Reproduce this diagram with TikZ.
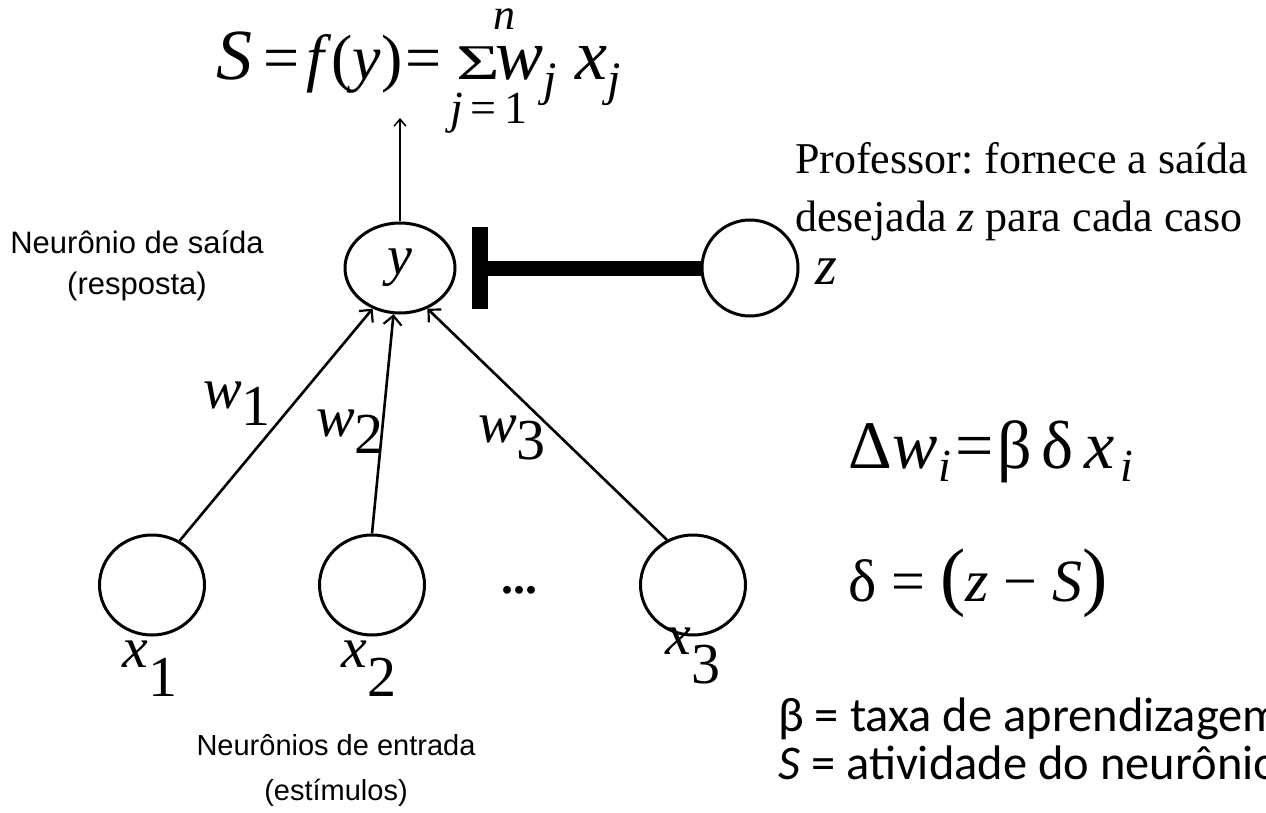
\documentclass[tikz,border=0pt]{standalone}
\usepackage{fontspec}
\setmainfont{Liberation Serif}
\newfontfamily\sansf{Liberation Sans}
\newfontfamily\calib{Carlito}
\usetikzlibrary{arrows.meta,shapes.geometric}
\newcommand\fsz[1]{\fontsize{#1}{#1}\selectfont}
\newcommand\sub[2][0.3em]{\raisebox{-#1}{#2}}
\frenchspacing
\begin{document}
\begin{tikzpicture}[x=1pt,y=-1pt,
  neuron/.style={draw, ellipse, line width=3pt, inner sep=0pt},
  conn/.style={line width=2.6pt, -{Straight Barb[length=9pt,width=18pt,line width=2.2pt]}},
  sanslbl/.style={font=\sansf\fontsize{30}{41}\selectfont, align=center, inner sep=0pt},
  txt/.style={inner sep=0pt, anchor=base west},
  ctxt/.style={inner sep=0pt, anchor=base}]
\useasboundingbox[fill=white] (0,0) rectangle (1266,813);

% formula on top
\node[txt, font=\fsz{72}, text height=48pt] (fS) at (216,80) {\textit{S}};
\node[txt, font=\fsz{64}, text height=30pt] (fe1) at (263,80) {=};
\node[txt, font=\fsz{64}, text height=44pt] (ffy) at (306,80) {\textit{f}(\textit{y})};
\node[txt, font=\fsz{64}, text height=30pt] (fe2) at (405,80) {=};
\node[txt, font=\fsz{50}, text height=24pt, text depth=0pt] (sig) at (456,80) {\scalebox{1.5}[1]{Σ}};
\node[ctxt, font=\fsz{44}, text height=20pt, text depth=0pt] (nup) at (504,30) {\textit{n}};
\node[ctxt, font=\fsz{46}, text height=31pt] (jlow) at (489,124) {\textit{j}\,=\,1};
\node[txt, font=\fsz{72}, text height=30pt] (fw) at (495,80) {\textit{w}\sub[0.22em]{\fsz{48}\textit{j}}};
\node[txt, font=\fsz{72}, text height=30pt] (fx) at (575,80) {\textit{x}\sub[0.22em]{\fsz{48}\textit{j}}};

% output neuron
\node[neuron, minimum width=110pt, minimum height=90pt] (y) at (400,268) {\fsz{56}\textit{y}};
\coordinate (top) at (400,118);
\draw[line width=2pt, -{Straight Barb[length=7pt,width=12pt,line width=1.5pt]}] (y.north) -- (top);
\node[sanslbl, font=\sansf\fontsize{31}{41}\selectfont] (lout) at (137,266) {Neurônio de saída\\(resposta)};

% teacher
\node[neuron, minimum width=96pt, minimum height=96pt] (z) at (750,268) {};
\node[inner sep=0pt, font=\fsz{56}] (zl) at (826,272) {\textit{z}};
\node[fill=black, minimum width=16pt, minimum height=82pt, inner sep=0pt] (bar) at (480,268) {};
\draw[line width=15pt] (bar.center) -- (z.west);
\node[txt, align=left, font=\fontsize{44}{58}\selectfont] (prof) at (795,231)
  {Professor: fornece a saída\\desejada \textit{z} para cada caso};

% input neurons
\node[neuron, minimum width=105pt, minimum height=100pt] (x1) at (152,585) {};
\node[neuron, minimum width=105pt, minimum height=100pt] (x2) at (372,585) {};
\node[neuron, minimum width=105pt, minimum height=100pt] (x3) at (693,585) {};
\node[inner sep=0pt, font=\fsz{48}\bfseries] (dots) at (519,590) {...};

\node[txt, font=\fsz{58}] (lx1) at (122,667) {\textit{x}\kern1pt\sub[0.5em]{1}};
\node[txt, font=\fsz{58}] (lx2) at (341,667) {\textit{x}\kern1pt\sub[0.5em]{2}};
\node[txt, font=\fsz{58}] (lx3) at (665,654) {\textit{x}\kern1pt\sub[0.5em]{3}};

\node[sanslbl, font=\sansf\fontsize{29}{45}\selectfont] (lin) at (336,770) {Neurônios de entrada\\(estímulos)};

% connections
\draw[conn] (x1.58) -- (y.236);
\draw[conn] (x2.90) -- (y.262);
\draw[conn] (x3.120) -- (y.304);

\node[txt, font=\fsz{58}] (w1) at (203,408) {\textit{w}\sub[0.3em]{1}};
\node[txt, font=\fsz{58}] (w2) at (316,436) {\textit{w}\sub[0.3em]{2}};
\node[txt, font=\fsz{58}] (w3) at (478,442) {\textit{w}\sub[0.3em]{3}};

% learning rule
\node[txt, font=\fsz{68}] (dw) at (848,468)
  {Δ\kern1pt\textit{w}\sub[0.2em]{\fsz{46}\textit{i}}\kern4pt=\kern4ptβ\kern10ptδ\kern10pt\textit{x}\kern6pt\sub[0.2em]{\fsz{46}\textit{i}}};
\node[txt, font=\fsz{60}] (del) at (848,601) {δ = {\fsz{76}(}\textit{z} − \textit{S}{\fsz{76})}};

\node[txt, font=\calib\fsz{48.5}] (beta) at (778,731) {β = taxa de aprendizagem};
\node[txt, font=\calib\fsz{48.5}] (sdef) at (778,779) {\textit{S} = atividade do neurônio};
\end{tikzpicture}
\end{document}
